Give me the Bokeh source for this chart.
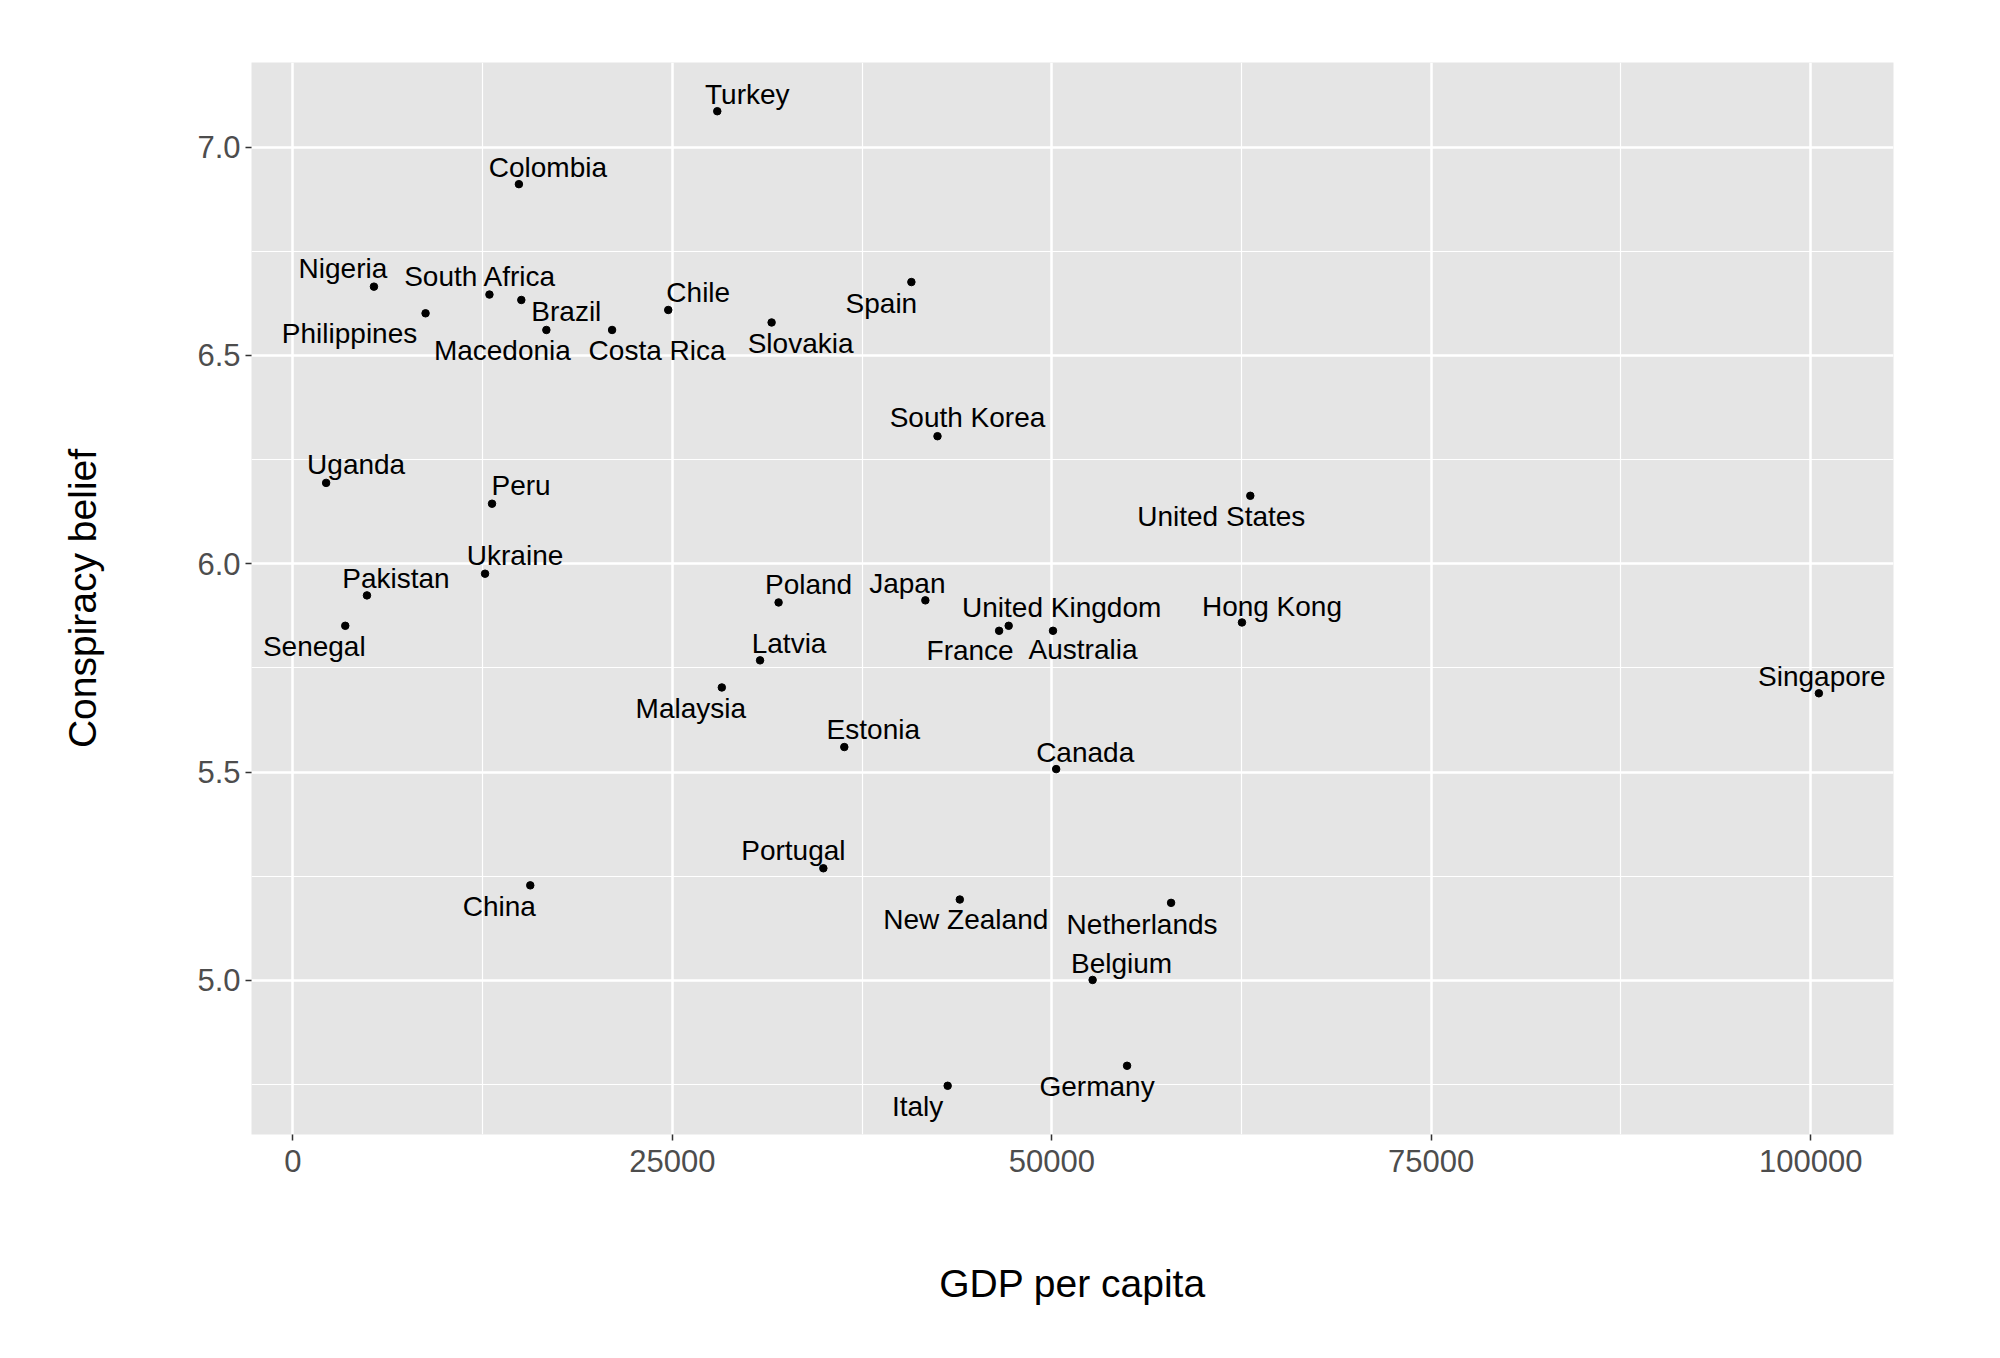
from bokeh.plotting import figure
from bokeh.models import ColumnDataSource, Range1d, FixedTicker, NumeralTickFormatter
from bokeh.core.properties import value
from bokeh.embed import file_html
from bokeh.resources import INLINE

# ---- data ----
countries = ["Turkey", "Colombia", "Nigeria", "South Africa", "Brazil", "Philippines",
             "Macedonia", "Costa Rica", "Chile", "Slovakia", "Spain", "South Korea",
             "Uganda", "Peru", "Ukraine", "Pakistan", "Senegal", "Poland", "Japan",
             "Latvia", "Malaysia", "Estonia", "Portugal", "China", "New Zealand", "Italy",
             "United States", "United Kingdom", "France", "Australia", "Hong Kong",
             "Singapore", "Canada", "Netherlands", "Belgium", "Germany"]
gdp_per_capita = [27960, 14890, 5340, 12950, 15050, 8740,
                  16700, 21030, 24730, 31540, 40750, 42470,
                  2190, 13120, 12660, 4880, 3450, 32000, 41670,
                  30780, 28260, 36330, 34950, 15640, 43940, 43140,
                  63080, 47160, 46530, 50080, 62530,
                  100540, 50290, 57860, 52690, 54960]
conspiracy_belief = [7.086, 6.911, 6.665, 6.646, 6.633, 6.601,
                     6.561, 6.561, 6.609, 6.579, 6.676, 6.306,
                     6.194, 6.144, 5.976, 5.924, 5.851, 5.907, 5.912,
                     5.768, 5.703, 5.560, 5.269, 5.228, 5.194, 4.747,
                     6.163, 5.851, 5.839, 5.839, 5.859,
                     5.689, 5.507, 5.186, 5.001, 4.795]

x_ticks = [0, 25000, 50000, 75000, 100000]
x_tick_labels = ["0", "25000", "50000", "75000", "100000"]
x_minor_ticks = [12500, 37500, 62500, 87500]
y_ticks = [5.0, 5.5, 6.0, 6.5, 7.0]
y_tick_labels = ["5.0", "5.5", "6.0", "6.5", "7.0"]
y_minor_ticks = [4.75, 5.25, 5.75, 6.25, 6.75]

x_title = "GDP per capita"
y_title = "Conspiracy belief"

# ---- label placement (screen px, repel-style offsets) ----
label_dx = [30, 29, -31, -9, 45, -76,
            -44, 45, 30, 29, -30, 30,
            30, 29, 30, 29, -31, 30, -18,
            29, -31, 29, -30, -31, 6, -30,
            -29, 53, -29, 30, 30,
            3, 29, -29, 29, -30]
label_dy = [-17, -17, -18, -18, 12, 20,
            21, 21, -17, 21, 21, -19,
            -18, -18, -18, -17, 21, -18, -17,
            -17, 21, -18, -18, 21, 20, 21,
            21, -18, 20, 19, -16,
            -17, -17, 22, -16, 21]


def expanded(vals, frac=0.05):
    lo, hi = min(vals), max(vals)
    d = (hi - lo) * frac
    return lo - d, hi + d


FONT = "Liberation Sans"

p = figure(width=1984, height=1342, output_backend="svg", toolbar_location=None,
           x_range=Range1d(*expanded(gdp_per_capita)),
           y_range=Range1d(*expanded(conspiracy_belief)),
           min_border_left=251, min_border_right=91,
           min_border_top=62, min_border_bottom=208)

p.background_fill_color = "#E5E5E5"
p.border_fill_color = "white"
p.outline_line_color = None

p.xaxis.ticker = FixedTicker(ticks=x_ticks, minor_ticks=x_minor_ticks)
p.yaxis.ticker = FixedTicker(ticks=y_ticks, minor_ticks=y_minor_ticks)
p.xaxis.formatter = NumeralTickFormatter(format="0")
p.yaxis.formatter = NumeralTickFormatter(format="0.0")
p.xaxis.major_label_overrides = {t: l for t, l in zip(x_ticks, x_tick_labels)}
p.yaxis.major_label_overrides = {t: l for t, l in zip(y_ticks, y_tick_labels)}

for g in (p.xgrid, p.ygrid):
    g.grid_line_color = "white"
    g.grid_line_width = 2.5
    g.minor_grid_line_color = "white"
    g.minor_grid_line_width = 1.2

for ax in (p.xaxis, p.yaxis):
    ax.axis_line_color = None
    ax.major_tick_line_color = "#333333"
    ax.major_tick_line_width = 1.5
    ax.major_tick_out = 6
    ax.major_tick_in = 0
    ax.minor_tick_line_color = None
    ax.major_label_text_font = FONT
    ax.major_label_text_font_size = "31px"
    ax.major_label_text_color = "#4D4D4D"
    ax.axis_label_text_font = FONT
    ax.axis_label_text_font_size = "39px"
    ax.axis_label_text_font_style = "normal"
    ax.axis_label_text_color = "black"

p.xaxis.axis_label = x_title
p.yaxis.axis_label = y_title
p.xaxis.major_label_standoff = 9
p.yaxis.major_label_standoff = 5
p.xaxis.axis_label_standoff = 87
p.yaxis.axis_label_standoff = 90

src = ColumnDataSource(dict(x=gdp_per_capita, y=conspiracy_belief, name=countries,
                            dx=label_dx, dy=label_dy))
p.scatter("x", "y", source=src, size=7.5, color="black")
p.text("x", "y", text="name", x_offset="dx", y_offset="dy", source=src,
       text_align="center", text_baseline="middle",
       text_font=value(FONT), text_font_size="28px", text_color="black")

open("out.html", "w").write(file_html(p, INLINE))
